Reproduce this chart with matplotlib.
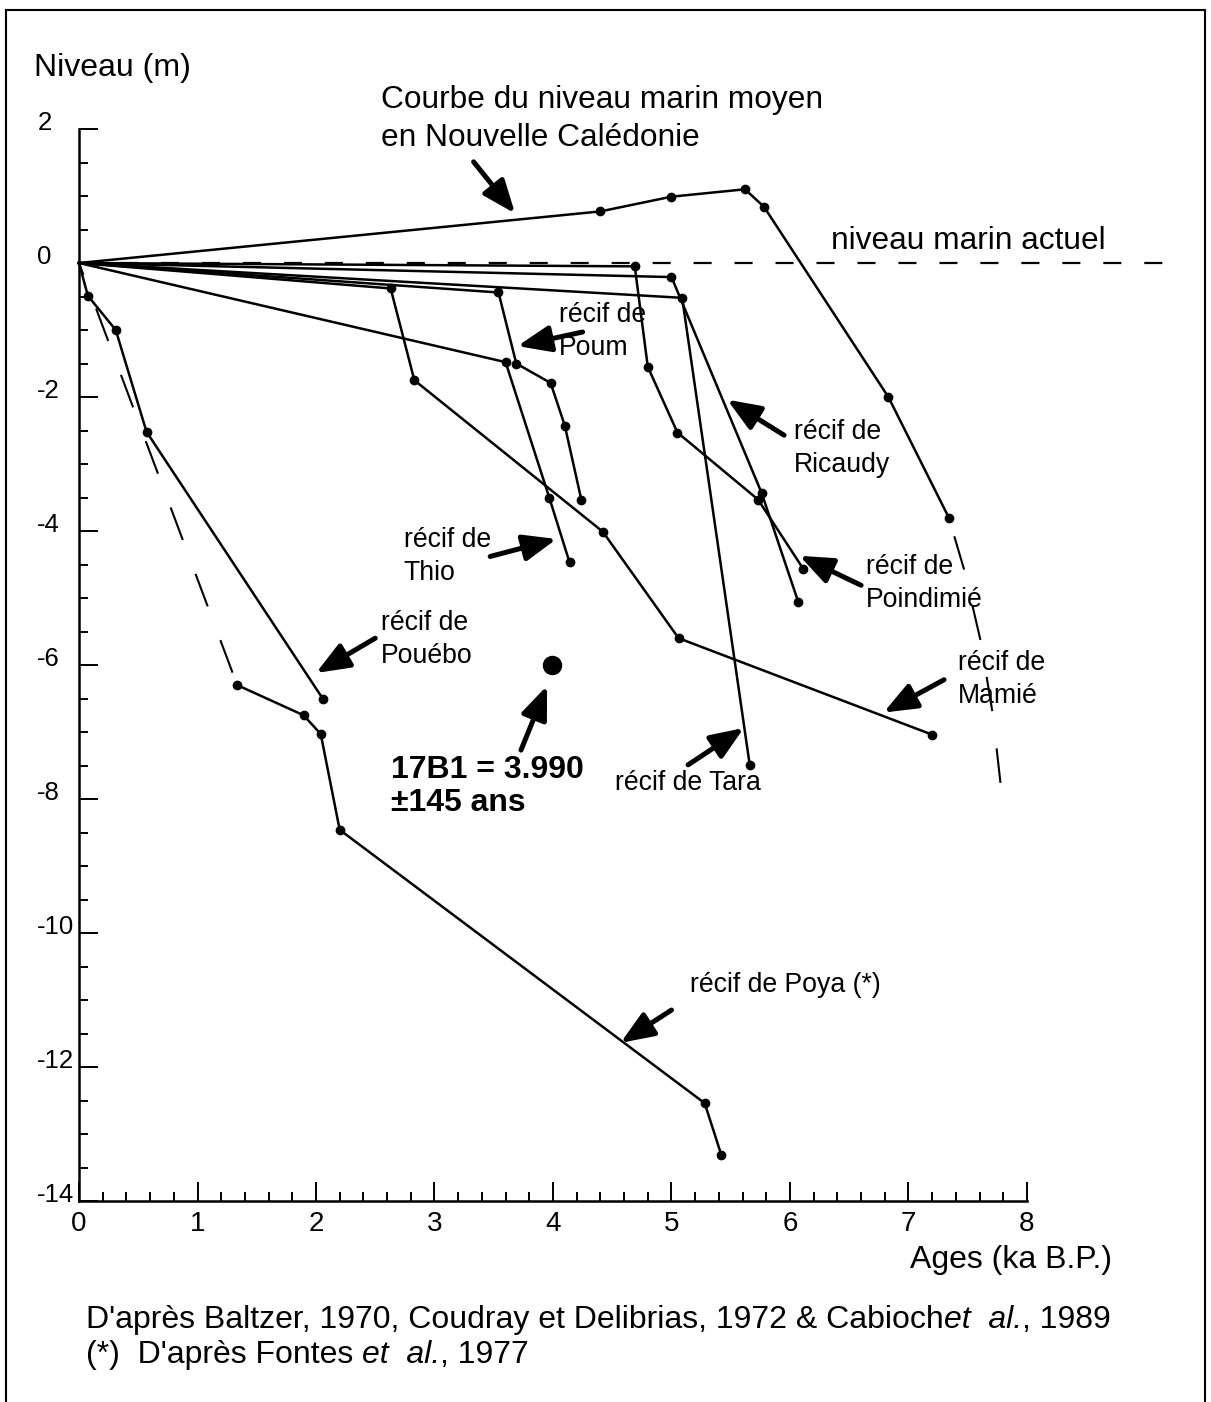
import matplotlib
matplotlib.use("Agg")
import matplotlib.pyplot as plt
from matplotlib.lines import Line2D
from matplotlib.transforms import ScaledTranslation
from matplotlib.ticker import FixedLocator

plt.rcParams['font.family'] = ['Liberation Sans', 'DejaVu Sans']
plt.rcParams['axes.unicode_minus'] = False
plt.rcParams['lines.scale_dashes'] = False

# ---- data: ages (ka B.P.) and levels (m) ----
courbe_age = [0.0, 4.40, 5.00, 5.62, 5.78, 6.83, 7.34]
courbe_niv = [0.0, 0.77, 0.99, 1.10, 0.84, -2.00, -3.80]
courbe_ext_age = [7.34, 7.47, 7.61, 7.71, 7.78]
courbe_ext_niv = [-3.80, -4.58, -5.65, -6.72, -7.82]

poum_age = [0.0, 3.54, 3.69, 3.98, 4.10, 4.24]
poum_niv = [0.0, -0.44, -1.50, -1.79, -2.43, -3.54]

thio_age = [0.0, 3.60, 3.97, 4.14]
thio_niv = [0.0, -1.48, -3.51, -4.47]

mamie_age = [0.0, 2.63, 2.83, 4.42, 5.06, 7.20]
mamie_niv = [0.0, -0.38, -1.75, -4.01, -5.60, -7.04]

poindimie_age = [0.0, 4.69, 4.80, 5.05, 5.73, 6.11]
poindimie_niv = [0.0, -0.05, -1.55, -2.53, -3.53, -4.56]

ricaudy_age = [0.0, 5.00, 5.76, 6.07]
ricaudy_niv = [0.0, -0.21, -3.43, -5.06]

tara_age = [0.0, 5.09, 5.66]
tara_niv = [0.0, -0.52, -7.49]

pouebo_age = [0.0, 0.075, 0.31, 0.57, 2.06]
pouebo_niv = [0.0, -0.49, -1.00, -2.52, -6.51]

poya_age = [0.0, 1.335, 1.895, 2.04, 2.20, 5.28, 5.42]
poya_niv = [0.0, -6.30, -6.75, -7.03, -8.46, -12.54, -13.31]

niveau_actuel_age = [0.0, 9.27]
niveau_actuel_niv = [0.0, 0.0]

echantillon_age = 3.99
echantillon_niv = -6.0

xticks_major = [0, 1, 2, 3, 4, 5, 6, 7, 8]
xtick_labels = ["0", "1", "2", "3", "4", "5", "6", "7", "8"]
yticks_major = [2, 0, -2, -4, -6, -8, -10, -12, -14]
ytick_labels = ["2", "0", "-2", "-4", "-6", "-8", "-10", "-12", "-14"]

# ---- figure & axes ----
W, H = 1211, 1402
fig = plt.figure(figsize=(W / 100, H / 100), dpi=100)
x0_px, sx = 79.0, 118.5
y0_px, sy = 263.0, 67.0
xlim = (-0.3, 9.5)
ylim = (-14.5, 3.2)
left_px = x0_px + xlim[0] * sx
right_px = x0_px + xlim[1] * sx
top_px = y0_px - ylim[1] * sy
bot_px = y0_px - ylim[0] * sy
ax = fig.add_axes([left_px / W, 1 - bot_px / H, (right_px - left_px) / W, (bot_px - top_px) / H])
ax.set_xlim(*xlim)
ax.set_ylim(*ylim)
ax.patch.set_visible(False)

for s in ("top", "right"):
    ax.spines[s].set_visible(False)
ax.spines["left"].set_position(("data", 0))
ax.spines["bottom"].set_position(("data", -14))
ax.spines["left"].set_bounds(-14, 2)
ax.spines["bottom"].set_bounds(0, 8)
for s in ("left", "bottom"):
    ax.spines[s].set_linewidth(1.8)

ax.set_xticks(xticks_major)
ax.set_xticklabels(xtick_labels)
ax.set_yticks(yticks_major)
ax.set_yticklabels(ytick_labels)
ax.xaxis.set_minor_locator(FixedLocator([i * 0.2 for i in range(41) if i % 5]))
ax.yaxis.set_minor_locator(FixedLocator([-14 + i * 0.5 for i in range(33) if i % 4]))
ax.tick_params(which="both", direction="in", width=1.4, color="black")
ax.tick_params(which="major", length=14)
ax.tick_params(which="minor", length=6.5)
ax.tick_params(axis="x", which="major", labelsize=20, pad=7)
ax.tick_params(axis="y", which="major", labelsize=18.5, pad=30)
lift = ScaledTranslation(0, 9 / 100, fig.dpi_scale_trans)
for t in ax.yaxis.get_major_ticks():
    t.label1.set_transform(t.label1.get_transform() + lift)
    t.label1.set_horizontalalignment("left")

# ---- series ----
lw, ms = 1.8, 6
line_kw = dict(color="black", lw=lw, marker="o", ms=ms, markevery=slice(1, None), solid_joinstyle="round")

ax.plot(courbe_age, courbe_niv, **line_kw)
ax.plot(courbe_ext_age, courbe_ext_niv, color="black", lw=1.5, linestyle=(38, (25, 27)))
ax.plot(niveau_actuel_age, niveau_actuel_niv, color="black", lw=1.6, linestyle=(0, (13, 16.5)))

for ages, nivs in [(poum_age, poum_niv), (thio_age, thio_niv), (mamie_age, mamie_niv),
                   (poindimie_age, poindimie_niv), (ricaudy_age, ricaudy_niv),
                   (tara_age, tara_niv), (pouebo_age, pouebo_niv)]:
    ax.plot(ages, nivs, **line_kw)

# Poya: first leg dashed, remainder solid
ax.plot(poya_age[:2], poya_niv[:2], color="black", lw=1.5, linestyle=(16, (25, 26)))
ax.plot(poya_age[1:], poya_niv[1:], color="black", lw=lw, marker="o", ms=ms)

ax.plot([echantillon_age], [echantillon_niv], "o", color="black", ms=13)

# ---- annotations ----
tfs = 19.2
def label(x, y, lines, size=tfs, dy=0.49, **kw):
    for i, s in enumerate(lines):
        ax.text(x, y - i * dy, s, fontsize=size, ha="left", va="center", **kw)

def arrow(tail, tip):
    ax.annotate("", xy=tip, xytext=tail,
                arrowprops=dict(arrowstyle="-|>,head_length=1.0,head_width=0.4",
                                mutation_scale=20, lw=3.6, color="black",
                                shrinkA=0, shrinkB=0))

label(2.55, 2.43, ["Courbe du niveau marin moyen", "en Nouvelle Calédonie"], size=22.8, dy=0.56)
label(6.35, 0.33, ["niveau marin actuel"], size=22.8)
label(4.05, -0.78, ["récif de", "Poum"])
label(6.03, -2.52, ["récif de", "Ricaudy"])
label(2.74, -4.13, ["récif de", "Thio"])
label(6.64, -4.54, ["récif de", "Poindimié"])
label(2.55, -5.37, ["récif de", "Pouébo"])
label(7.42, -5.97, ["récif de", "Mamié"])
label(4.52, -7.76, ["récif de Tara"])
label(5.16, -10.78, ["récif de Poya (*)"])
label(2.63, -7.57, ["17B1 = 3.990", "±145 ans"], size=23, fontweight="bold")

arrow((3.33, 1.51), (3.68, 0.74))
arrow((4.25, -1.03), (3.70, -1.24))
arrow((5.95, -2.57), (5.47, -2.04))
arrow((3.47, -4.38), (4.03, -4.12))
arrow((6.60, -4.81), (6.08, -4.37))
arrow((7.30, -6.22), (6.79, -6.71))
arrow((5.14, -7.49), (5.61, -6.94))
arrow((2.50, -5.60), (2.00, -6.12))
arrow((5.00, -11.15), (4.57, -11.64))
arrow((3.73, -7.27), (3.95, -6.31))

# ---- axis titles and source notes (figure pixel positions) ----
def fig_text(x, y, s, **kw):
    return fig.text(x / W, 1 - y / H, s, **kw)

fig_text(34, 68, "Niveau (m)", fontsize=23, ha="left", va="center")
fig_text(1112, 1260, "Ages (ka B.P.)", fontsize=23, ha="right", va="center")

renderer = fig.canvas.get_renderer()
def runs(x, y, parts, size=23):
    for s, style in parts:
        t = fig_text(x, y, s, fontsize=size, style=style, ha="left", va="center")
        x += t.get_window_extent(renderer).width

runs(86, 1320, [("D'après Baltzer, 1970, Coudray et Delibrias, 1972 & Cabioch", "normal"),
                ("et  al.", "italic"), (", 1989", "normal")])
runs(86, 1355, [("(*)  D'après Fontes ", "normal"), ("et  al.", "italic"), (", 1977", "normal")])

# ---- outer frame ----
frame = dict(color="black", lw=1.5, transform=fig.transFigure)
fig.add_artist(Line2D([6 / W, 1205 / W], [1 - 10 / H, 1 - 10 / H], **frame))
fig.add_artist(Line2D([6 / W, 6 / W], [0, 1 - 10 / H], **frame))
fig.add_artist(Line2D([1205 / W, 1205 / W], [0, 1 - 10 / H], **frame))

fig.savefig("out.png", dpi=100, facecolor="white")
